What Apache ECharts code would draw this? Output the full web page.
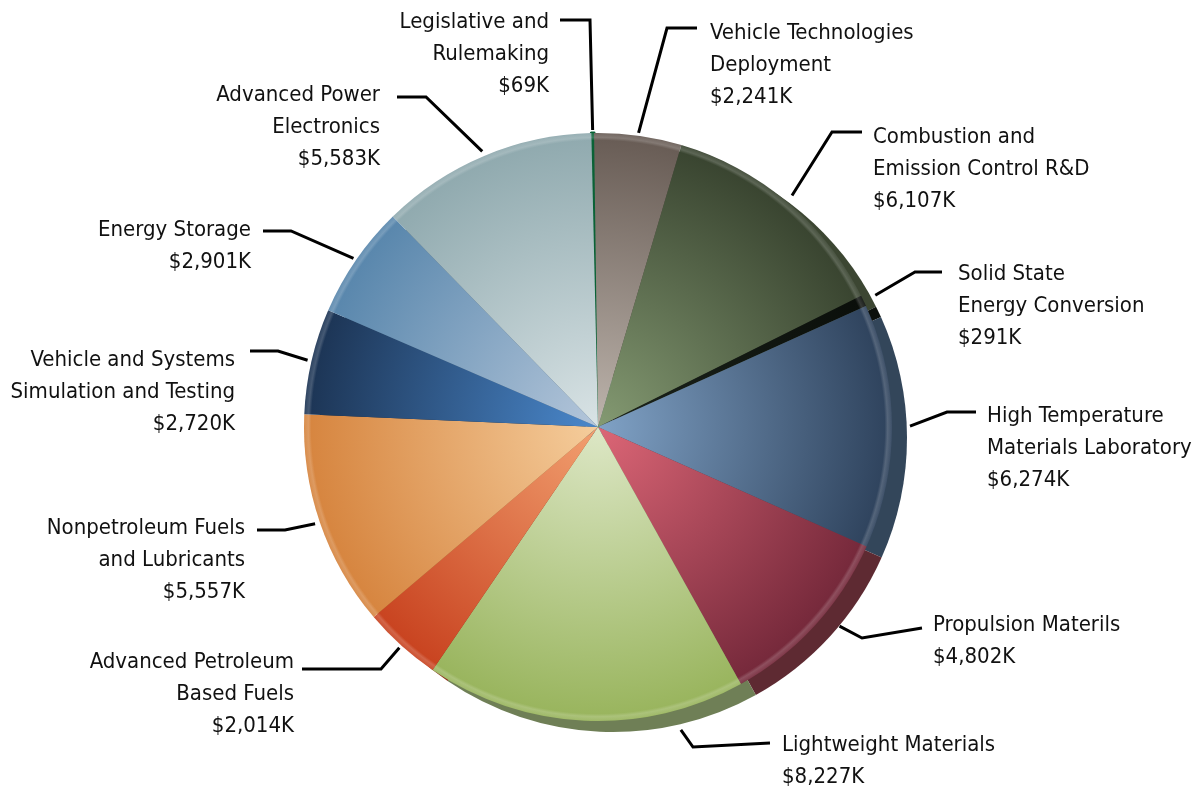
<!DOCTYPE html>
<html>
<head>
<meta charset="utf-8">
<script src="https://cdn.jsdelivr.net/npm/echarts@6/dist/echarts.min.js"></script>
<style>
  html, body { margin: 0; background: #fff; }
  #main { width: 1196px; height: 792px; }
</style>
</head>
<body>
<div id="main"></div>
<script>
// program areas, clockwise from the top
const categories = [
  'Legislative and\nRulemaking',
  'Vehicle Technologies\nDeployment',
  'Combustion and\nEmission Control R&D',
  'Solid State\nEnergy Conversion',
  'High Temperature\nMaterials Laboratory',
  'Propulsion Materils',
  'Lightweight Materials',
  'Advanced Petroleum\nBased Fuels',
  'Nonpetroleum Fuels\nand Lubricants',
  'Vehicle and Systems\nSimulation and Testing',
  'Energy Storage',
  'Advanced Power\nElectronics'
];
// budget in $K
const budgetK = [69, 2241, 6107, 291, 6274, 4802, 8227, 2014, 5557, 2720, 2901, 5583];

// slice colours: light near the centre, dark at the rim
const innerColors = ['#1a8a50', '#bdb4ac', '#849a72', '#1c241c', '#80a2c6', '#dc6676', '#dde7c6', '#f2a070', '#f5cd9c', '#4a88cc', '#b4c6da', '#d9e3e5'];
const outerColors = ['#07512b', '#675b54', '#38432f', '#0a0e0a', '#2e425c', '#74283a', '#98b45c', '#c8421f', '#d6843e', '#1c3454', '#5886ac', '#8fa9ae'];
// offset copy that shows as the thick 3D edge
const sideColors = ['#053d20', '#4e443e', '#3c4632', '#0c100c', '#33465a', '#5e2a32', '#6f7f56', '#8a3018', '#9a5a28', '#122238', '#3a5a78', '#62787c'];

// label layout: [align, textX, firstLineY, elbowX, elbowY, endX, endY, lineGap, lineAngle]
const labelPos = [
  ['right', 549, 22, 590, 20, 560, 20, 3],
  ['left', 710, 33, 667, 28, 697, 28, 3],
  ['left', 873, 137, 832, 132, 862, 132, 8],
  ['left', 958, 274, 915, 272, 942, 272, 13],
  ['left', 987, 416, 947, 412, 976, 412, 18],
  ['left', 933, 625, 862, 638, 922, 628, 19, 129.5],
  ['left', 782, 745, 693, 747, 770, 743, 20, 164.7],
  ['right', 294, 662, 381, 669, 302, 669, 3],
  ['right', 245, 528, 285, 530, 257, 530, 5],
  ['right', 235, 360, 278, 351, 250, 351, 4],
  ['right', 251, 230, 291, 231, 263, 231, 3],
  ['right', 380, 95, 426, 97, 397, 97, 5]
];

const cx = 598, cy = 427, R = 294;
const font = "'Liberation Sans Narrow', 'DejaVu Sans Condensed', sans-serif";

function radial(stops) {
  return { type: 'radial', x: cx, y: cy, r: R, global: true, colorStops: stops };
}

const frontData = categories.map((name, i) => ({
  name: name,
  value: budgetK[i],
  itemStyle: {
    color: radial([
      { offset: 0, color: innerColors[i] },
      { offset: 1, color: outerColors[i] }
    ]),
    borderWidth: i === 0 ? 3 : 0,
    borderColor: '#0a6236'
  }
}));

const sideData = categories.map((name, i) => ({
  name: name,
  value: budgetK[i],
  itemStyle: { color: sideColors[i] }
}));

const chart = echarts.init(document.getElementById('main'));

chart.setOption({
  animation: false,
  backgroundColor: '#fff',
  series: [
    {
      // 3D edge
      type: 'pie',
      center: [cx + 15, cy + 11],
      radius: R,
      startAngle: 91.3,
      silent: true,
      label: { show: false },
      labelLine: { show: false },
      data: sideData
    },
    {
      type: 'pie',
      center: [cx, cy],
      radius: R,
      startAngle: 91.3,
      avoidLabelOverlap: false,
      emphasis: { disabled: true },
      label: {
        show: true,
        position: 'outside',
        fontFamily: font,
        fontSize: 22,
        lineHeight: 32,
        color: '#111',
        formatter: p => p.name + '\n$' + p.value.toLocaleString('en-US') + 'K'
      },
      labelLine: {
        show: true,
        smooth: false,
        lineStyle: { color: '#000', width: 3 }
      },
      labelLayout: function (params) {
        const p = labelPos[params.dataIndex];
        const pts = params.labelLinePoints;
        let start;
        if (p[8] != null || !pts) {
          const a = (p[8] || 0) * Math.PI / 180, r = R + p[7];
          start = [cx + r * Math.sin(a), cy - r * Math.cos(a)];
        } else {
          const dx = pts[1][0] - pts[0][0], dy = pts[1][1] - pts[0][1];
          const len = Math.sqrt(dx * dx + dy * dy) || 1;
          start = [pts[0][0] + dx / len * p[7], pts[0][1] + dy / len * p[7]];
        }
        return {
          x: p[1],
          y: p[2] - 16,
          align: p[0],
          verticalAlign: 'top',
          labelLinePoints: [start, [p[3], p[4]], [p[5], p[6]]]
        };
      },
      data: frontData
    },
    {
      // bevel highlight on the rim
      type: 'pie',
      center: [cx, cy],
      radius: R,
      silent: true,
      label: { show: false },
      labelLine: { show: false },
      data: [{
        value: 1,
        itemStyle: {
          color: radial([
            { offset: 0, color: 'rgba(255,255,255,0)' },
            { offset: 0.975, color: 'rgba(255,255,255,0)' },
            { offset: 0.985, color: 'rgba(255,255,255,0.18)' },
            { offset: 1, color: 'rgba(255,255,255,0.08)' }
          ])
        }
      }]
    }
  ]
});
</script>
</body>
</html>
